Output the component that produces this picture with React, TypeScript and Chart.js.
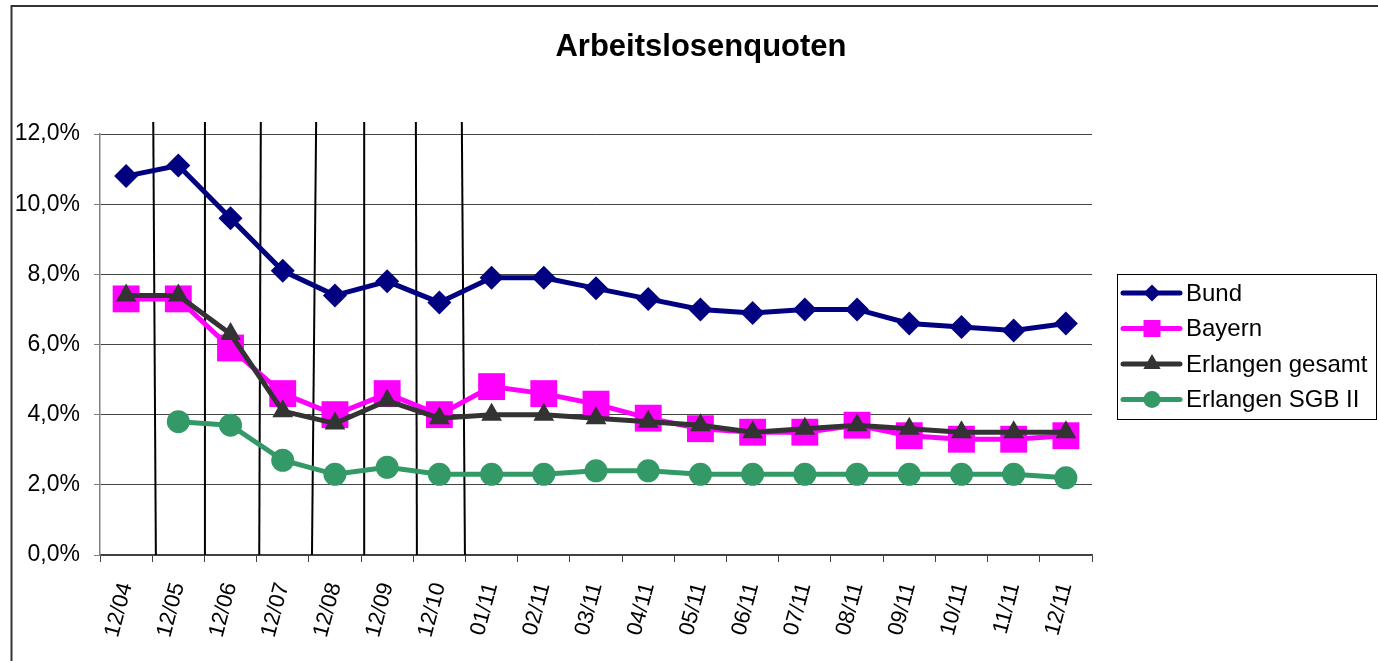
import React, { useEffect, useRef } from "react";
import { Chart, registerables } from "chart.js";

Chart.register(...registerables);

const categories = ["12/04", "12/05", "12/06", "12/07", "12/08", "12/09", "12/10", "01/11", "02/11", "03/11", "04/11", "05/11", "06/11", "07/11", "08/11", "09/11", "10/11", "11/11", "12/11"];
const bund = [10.8, 11.1, 9.6, 8.1, 7.4, 7.8, 7.2, 7.9, 7.9, 7.6, 7.3, 7.0, 6.9, 7.0, 7.0, 6.6, 6.5, 6.4, 6.6];
const bayern = [7.3, 7.3, 5.9, 4.6, 4.0, 4.6, 4.0, 4.8, 4.6, 4.3, 3.9, 3.6, 3.5, 3.5, 3.7, 3.4, 3.3, 3.3, 3.4];
const erlangenGesamt = [7.4, 7.4, 6.3, 4.1, 3.75, 4.4, 3.9, 4.0, 4.0, 3.9, 3.8, 3.7, 3.5, 3.6, 3.7, 3.6, 3.5, 3.5, 3.5];
const erlangenSGB = [null, 3.8, 3.7, 2.7, 2.3, 2.5, 2.3, 2.3, 2.3, 2.4, 2.4, 2.3, 2.3, 2.3, 2.3, 2.3, 2.3, 2.3, 2.2];
const seriesNames = ["Bund", "Bayern", "Erlangen gesamt", "Erlangen SGB II"];
const yMin = 0;
const yMax = 12;
const yStep = 2;
const titleText = "Arbeitslosenquoten";
// hand-drawn separator lines, in category-index units (top end / bottom end)
const dividerTopAt = [0.52, 1.51, 2.58, 3.64, 4.56, 5.55, 6.43];
const dividerBottomAt = [0.57, 1.51, 2.55, 3.56, 4.56, 5.57, 6.49];
const dividerTopValue = 12.34;

const FONT = "'Liberation Sans', Arial, sans-serif";
const COLORS = ["#000080", "#FF00FF", "#333333", "#339966"];
const STYLES = ["rectRot", "rect", "triangle", "circle"];
const RADII = [12, 19, 12, 11.5];
const LEGEND_RADII = [8.5, 12, 10, 8.5];

function drawMarker(ctx: CanvasRenderingContext2D, style: string, x: number, y: number, r: number) {
  ctx.beginPath();
  if (style === "rectRot") {
    ctx.moveTo(x, y - r);
    ctx.lineTo(x + r, y);
    ctx.lineTo(x, y + r);
    ctx.lineTo(x - r, y);
    ctx.closePath();
  } else if (style === "rect") {
    const s = r * Math.SQRT1_2;
    ctx.rect(x - s, y - s, 2 * s, 2 * s);
  } else if (style === "triangle") {
    const a = (2 * Math.PI) / 3;
    ctx.moveTo(x, y - r);
    ctx.lineTo(x + Math.sin(a) * r, y - Math.cos(a) * r);
    ctx.lineTo(x + Math.sin(2 * a) * r, y - Math.cos(2 * a) * r);
    ctx.closePath();
  } else {
    ctx.arc(x, y, r, 0, Math.PI * 2);
  }
  ctx.fill();
}

const framePlugin = {
  id: "frame",
  beforeDraw(chart: any) {
    const ctx = chart.ctx;
    ctx.save();
    ctx.fillStyle = "#ffffff";
    ctx.fillRect(0, 0, chart.width, chart.height);
    ctx.strokeStyle = "#333333";
    ctx.lineWidth = 2;
    ctx.beginPath();
    ctx.moveTo(11.5, chart.height);
    ctx.lineTo(11.5, 6);
    ctx.lineTo(chart.width, 6);
    ctx.stroke();
    ctx.restore();
  },
};

const dividerPlugin = {
  id: "dividers",
  beforeDatasetsDraw(chart: any) {
    const ctx = chart.ctx;
    const xs = chart.scales.x;
    const ys = chart.scales.y;
    ctx.save();
    ctx.strokeStyle = "#000000";
    ctx.lineWidth = 2;
    for (let i = 0; i < dividerTopAt.length; i++) {
      ctx.beginPath();
      ctx.moveTo(xs.getPixelForValue(dividerTopAt[i]), ys.getPixelForValue(dividerTopValue));
      ctx.lineTo(xs.getPixelForValue(dividerBottomAt[i]), ys.getPixelForValue(yMin));
      ctx.stroke();
    }
    ctx.restore();
  },
};

const titleLegendPlugin = {
  id: "titleLegend",
  afterDraw(chart: any) {
    const ctx = chart.ctx;
    ctx.save();
    ctx.fillStyle = "#000000";
    ctx.font = `bold 31px ${FONT}`;
    ctx.textAlign = "center";
    ctx.textBaseline = "alphabetic";
    ctx.fillText(titleText, 701, 56);

    // legend
    const lx = 1117;
    const ly = 274;
    ctx.strokeStyle = "#000000";
    ctx.lineWidth = 1;
    ctx.strokeRect(lx + 0.5, ly + 0.5, 259, 145);
    ctx.font = `24px ${FONT}`;
    ctx.textAlign = "left";
    ctx.textBaseline = "middle";
    for (let i = 0; i < seriesNames.length; i++) {
      const y = ly + 19 + i * 35.5;
      ctx.strokeStyle = COLORS[i];
      ctx.lineWidth = 5;
      ctx.lineCap = "round";
      ctx.beginPath();
      ctx.moveTo(lx + 6, y);
      ctx.lineTo(lx + 63, y);
      ctx.stroke();
      ctx.fillStyle = COLORS[i];
      drawMarker(ctx, STYLES[i], lx + 35, y, LEGEND_RADII[i]);
      ctx.fillStyle = "#000000";
      ctx.fillText(seriesNames[i], lx + 69, y + 1);
    }
    ctx.restore();
  },
};

export default function App() {
  const ref = useRef<HTMLCanvasElement | null>(null);
  useEffect(() => {
    if (!ref.current) return;
    const seriesData = [bund, bayern, erlangenGesamt, erlangenSGB];
    const chart = new Chart(ref.current, {
      type: "line",
      data: {
        labels: categories,
        datasets: seriesData.map((d, i) => ({
          label: seriesNames[i],
          data: d,
          borderColor: COLORS[i],
          backgroundColor: COLORS[i],
          borderWidth: 5,
          pointStyle: STYLES[i] as any,
          pointRadius: RADII[i],
          pointBackgroundColor: COLORS[i],
          pointBorderColor: COLORS[i],
          pointBorderWidth: 0,
          tension: 0,
          order: 4 - i,
          clip: false as any,
        })),
      },
      options: {
        animation: false,
        responsive: false,
        devicePixelRatio: 1,
        layout: { padding: { top: 134, left: 0, right: 286, bottom: 0 } },
        plugins: {
          legend: { display: false },
          title: { display: false },
          tooltip: { enabled: false },
        },
        scales: {
          x: {
            type: "category",
            offset: true,
            afterFit: (s: any) => {
              s.height = 106;
            },
            grid: {
              offset: true,
              drawOnChartArea: false,
              tickLength: 7,
              tickColor: "#404040",
              lineWidth: 1,
            },
            border: { color: "#404040", width: 1.5 },
            ticks: {
              autoSkip: false,
              minRotation: 75,
              maxRotation: 75,
              padding: 18,
              color: "#000000",
              font: { family: FONT, size: 22 },
            },
          },
          y: {
            min: yMin,
            max: yMax,
            afterFit: (s: any) => {
              s.width = 100;
            },
            grid: {
              color: "#444444",
              tickColor: "#808080",
              tickLength: 6,
              lineWidth: 1,
            },
            border: { color: "#808080", width: 1.5 },
            ticks: {
              stepSize: yStep,
              padding: 14,
              color: "#000000",
              font: { family: FONT, size: 23 },
              callback: (v: any) => Number(v).toFixed(1).replace(".", ",") + "%",
            },
          },
        },
      },
      plugins: [framePlugin, dividerPlugin, titleLegendPlugin],
    });
    return () => chart.destroy();
  }, []);
  return (
    <canvas
      ref={ref}
      width={1378}
      height={661}
      style={{ position: "fixed", left: 0, top: 0, width: 1378, height: 661 }}
    />
  );
}
